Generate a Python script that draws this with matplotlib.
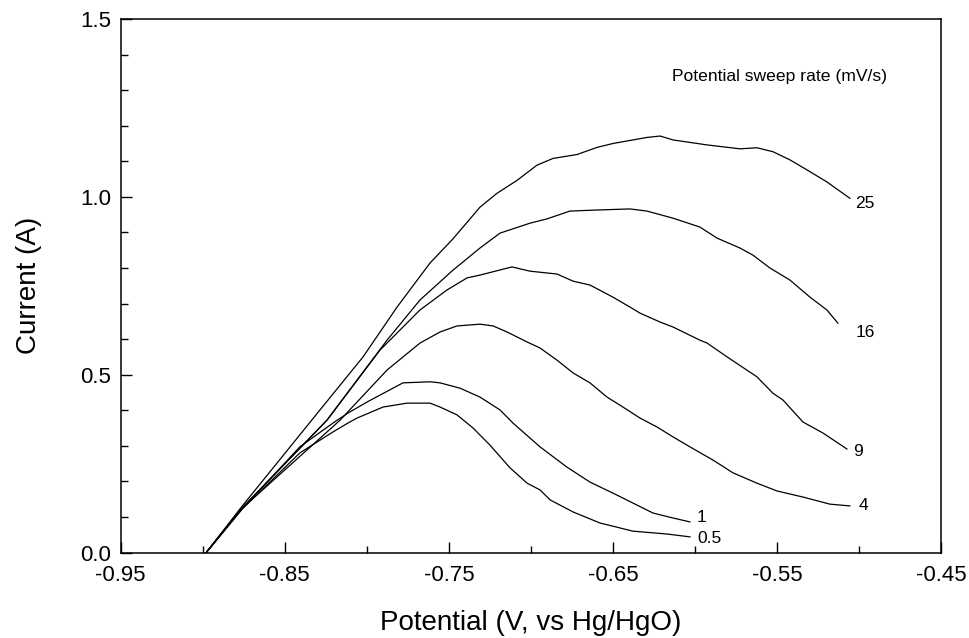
import matplotlib
matplotlib.use("Agg")
import matplotlib.pyplot as plt
from matplotlib.ticker import FixedLocator, MultipleLocator, FormatStrFormatter

plt.rcParams['font.family'] = ['Liberation Sans', 'DejaVu Sans']

# ---- data (Potential in V vs Hg/HgO, Current in A) ----
x_25 = [-0.8978, -0.8760, -0.8285, -0.8023, -0.7816, -0.7615, -0.7481, -0.7414, -0.7311,
        -0.7207, -0.7086, -0.6964, -0.6866, -0.6720, -0.6598, -0.6501, -0.6294, -0.6214,
        -0.6135, -0.5928, -0.5727, -0.5624, -0.5527, -0.5423, -0.5320, -0.5198, -0.5058]
y_25 = [0.000, 0.130, 0.401, 0.550, 0.690, 0.814, 0.879, 0.915, 0.971,
        1.010, 1.046, 1.089, 1.108, 1.119, 1.139, 1.150, 1.167, 1.171,
        1.160, 1.146, 1.135, 1.138, 1.127, 1.104, 1.076, 1.042, 0.996]

x_16 = [-0.8978, -0.8760, -0.8243, -0.7877, -0.7676, -0.7475, -0.7311, -0.7189, -0.7006,
        -0.6903, -0.6763, -0.6598, -0.6397, -0.6294, -0.6135, -0.5971, -0.5867, -0.5727,
        -0.5648, -0.5545, -0.5423, -0.5301, -0.5198, -0.5131]
y_16 = [0.000, 0.125, 0.372, 0.597, 0.710, 0.794, 0.856, 0.898, 0.926,
        0.938, 0.960, 0.963, 0.966, 0.960, 0.940, 0.915, 0.884, 0.856,
        0.836, 0.800, 0.766, 0.718, 0.682, 0.645]

x_9 = [-0.8978, -0.8760, -0.8243, -0.7920, -0.7676, -0.7512, -0.7390, -0.7311, -0.7116,
       -0.7006, -0.6842, -0.6744, -0.6641, -0.6501, -0.6397, -0.6336, -0.6214, -0.6135,
       -0.5971, -0.5928, -0.5806, -0.5624, -0.5527, -0.5466, -0.5344, -0.5222, -0.5076]
y_9 = [0.000, 0.125, 0.372, 0.569, 0.682, 0.738, 0.772, 0.780, 0.803,
       0.791, 0.783, 0.763, 0.752, 0.718, 0.690, 0.673, 0.648, 0.634,
       0.597, 0.589, 0.550, 0.494, 0.448, 0.429, 0.367, 0.336, 0.291]

x_4 = [-0.8978, -0.8760, -0.8163, -0.7877, -0.7676, -0.7554, -0.7451, -0.7311, -0.7231,
       -0.7146, -0.7024, -0.6945, -0.6842, -0.6744, -0.6641, -0.6537, -0.6440, -0.6336,
       -0.6233, -0.6135, -0.6032, -0.5892, -0.5770, -0.5624, -0.5502, -0.5344, -0.5180,
       -0.5058]
y_4 = [0.000, 0.124, 0.372, 0.513, 0.589, 0.620, 0.637, 0.642, 0.637,
       0.620, 0.592, 0.575, 0.541, 0.505, 0.477, 0.437, 0.409, 0.378,
       0.353, 0.325, 0.297, 0.260, 0.224, 0.195, 0.173, 0.156, 0.136,
       0.131]

x_1 = [-0.8978, -0.8760, -0.8408, -0.8206, -0.8115, -0.7999, -0.7780, -0.7615, -0.7554,
       -0.7432, -0.7311, -0.7189, -0.7110, -0.6945, -0.6781, -0.6641, -0.6501, -0.6379,
       -0.6257, -0.6135, -0.6032]
y_1 = [0.000, 0.122, 0.297, 0.364, 0.392, 0.423, 0.477, 0.480, 0.477,
       0.462, 0.437, 0.401, 0.364, 0.297, 0.240, 0.198, 0.167, 0.139,
       0.111, 0.097, 0.086]

x_05 = [-0.8978, -0.8760, -0.8408, -0.8206, -0.8115, -0.8060, -0.7901, -0.7755, -0.7615,
        -0.7554, -0.7451, -0.7353, -0.7250, -0.7128, -0.7024, -0.6945, -0.6884, -0.6744,
        -0.6580, -0.6379, -0.6172, -0.6032]
y_05 = [0.000, 0.122, 0.280, 0.339, 0.364, 0.378, 0.409, 0.420, 0.420,
        0.409, 0.387, 0.350, 0.302, 0.238, 0.195, 0.176, 0.148, 0.114,
        0.083, 0.060, 0.052, 0.044]

sweep_labels = ["25", "16", "9", "4", "1", "0.5"]
x_ticks = [-0.95, -0.85, -0.75, -0.65, -0.55, -0.45]
y_ticks = [0.0, 0.5, 1.0, 1.5]

series = [(x_25, y_25), (x_16, y_16), (x_9, y_9), (x_4, y_4), (x_1, y_1), (x_05, y_05)]
# label offsets (points) relative to each curve's last point
label_offsets = [(4, -4), (13, -6.5), (4.5, -1.5), (6.5, 0), (5, 3), (5, -1)]

fig = plt.figure(figsize=(9.69, 6.38), dpi=100)
ax = fig.add_axes([0.1244, 0.1340, 0.8472, 0.8362])

for (xs, ys), lab, off in zip(series, sweep_labels, label_offsets):
    ax.plot(xs, ys, color='black', lw=0.9)
    ax.annotate(lab, xy=(xs[-1], ys[-1]), xytext=off, textcoords='offset points',
                ha='left', va='center', fontsize=12.5)

ax.text(-0.6141, 1.337, "Potential sweep rate (mV/s)", ha='left', va='center', fontsize=12.6)

ax.set_xlim(-0.95, -0.45)
ax.set_ylim(0.0, 1.5)
ax.xaxis.set_major_locator(FixedLocator(x_ticks))
ax.xaxis.set_minor_locator(FixedLocator([-0.90, -0.80, -0.70, -0.60, -0.50]))
ax.yaxis.set_major_locator(FixedLocator(y_ticks))
ax.yaxis.set_minor_locator(MultipleLocator(0.1))
ax.xaxis.set_major_formatter(FormatStrFormatter('%.2f'))
ax.yaxis.set_major_formatter(FormatStrFormatter('%.1f'))

ax.tick_params(which='both', direction='in', top=False, right=False, width=1.0, labelsize=16)
ax.tick_params(axis='x', which='major', length=8, pad=9)
ax.tick_params(axis='x', which='minor', length=5)
ax.tick_params(axis='y', which='major', length=8, pad=7)
ax.tick_params(axis='y', which='minor', length=5)
for sp in ax.spines.values():
    sp.set_linewidth(1.1)

ax.set_xlabel("Potential (V, vs Hg/HgO)", fontsize=20)
ax.set_ylabel("Current (A)", fontsize=20)
ax.xaxis.set_label_coords(0.5, -0.108)
ax.yaxis.set_label_coords(-0.096, 0.5)

fig.savefig("out.png", dpi=100)
